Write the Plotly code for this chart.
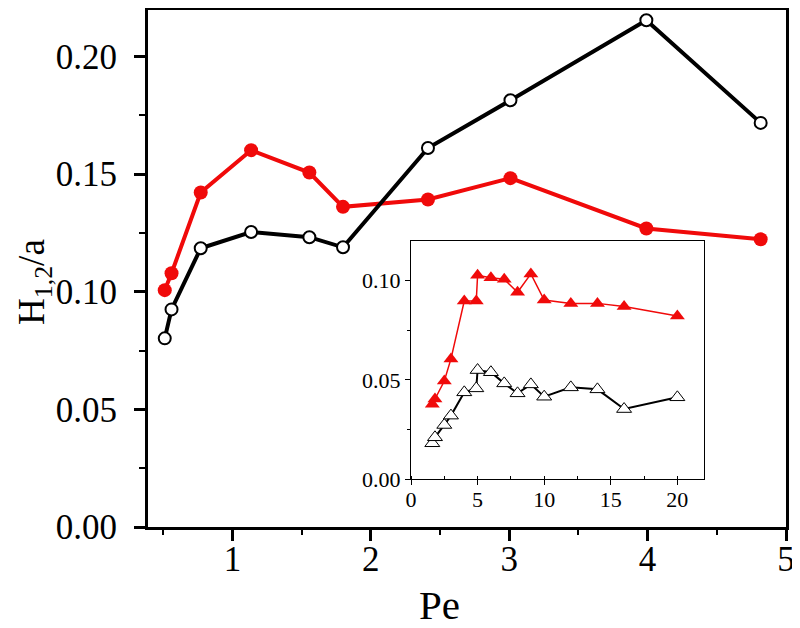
import plotly.graph_objects as go

# ---- main panel data ----
pe_main = [0.511, 0.560, 0.771, 1.135, 1.556, 1.799, 2.413, 3.009, 3.991, 4.817]
h_black = [0.0802, 0.0925, 0.1185, 0.1254, 0.1232, 0.1189, 0.1611, 0.1814, 0.2154, 0.1718]
h_red = [0.1007, 0.1079, 0.1422, 0.1602, 0.1507, 0.1361, 0.1392, 0.1483, 0.1269, 0.1223]

# ---- inset data ----
pe_inset = [1.6, 1.8, 2.5, 3.0, 4.0, 4.9, 5.0, 6.0, 7.0, 8.0, 9.0, 10.0, 12.0, 14.0, 16.0, 20.0]
h_inset_red = [0.0377, 0.0404, 0.0494, 0.0605, 0.0896, 0.0896, 0.1025, 0.1013, 0.1005, 0.0940,
               0.1032, 0.0901, 0.0884, 0.0884, 0.0868, 0.0821]
h_inset_black = [0.0181, 0.0211, 0.0273, 0.0320, 0.0437, 0.0457, 0.0549, 0.0538, 0.0482, 0.0432,
                 0.0477, 0.0415, 0.0462, 0.0452, 0.0353, 0.0412]

main_xticks = [1, 2, 3, 4, 5]
main_yticks = [0.00, 0.05, 0.10, 0.15, 0.20]
inset_xticks = [0, 5, 10, 15, 20]
inset_yticks = [0.00, 0.05, 0.10]

RED = "#f00a0a"
FONT = "Liberation Serif, Times New Roman, serif"

# page is drawn with an 8px body margin; figure is sized/placed to compensate
W, H, OFF = 792, 620, 8


def px_x(p):
    return (p - OFF) / W


def px_y(p):
    return 1 - (p - OFF) / H


fig = go.Figure()

fig.add_trace(go.Scatter(x=pe_main, y=h_red, mode="lines+markers",
                         line=dict(color=RED, width=4),
                         marker=dict(symbol="circle", size=14, color=RED),
                         xaxis="x", yaxis="y", showlegend=False))
fig.add_trace(go.Scatter(x=pe_main, y=h_black, mode="lines+markers",
                         line=dict(color="black", width=4),
                         marker=dict(symbol="circle", size=12, color="white",
                                     line=dict(color="black", width=2)),
                         xaxis="x", yaxis="y", showlegend=False))

fig.add_trace(go.Scatter(x=pe_inset, y=h_inset_red, mode="lines+markers",
                         line=dict(color=RED, width=1.5),
                         marker=dict(symbol="triangle-up", size=13, color=RED),
                         xaxis="x2", yaxis="y2", showlegend=False))
fig.add_trace(go.Scatter(x=pe_inset, y=h_inset_black, mode="lines+markers",
                         line=dict(color="black", width=2),
                         marker=dict(symbol="triangle-up", size=13, color="white",
                                     line=dict(color="black", width=1)),
                         xaxis="x2", yaxis="y2", showlegend=False))

main_xd = [px_x(148), px_x(786)]
main_yd = [px_y(527), px_y(9.5)]
ins_xd = [px_x(411), px_x(704)]
ins_yd = [px_y(479.3), px_y(240.5)]

XR = [0.39, 5.0]
YR = [0, 0.22]
IXR = [0, 22]
IYR = [0, 0.12]

fig.update_layout(
    template="none",
    width=W, height=H,
    margin=dict(l=0, r=0, t=0, b=0),
    paper_bgcolor="white", plot_bgcolor="white",
    font=dict(family=FONT, color="black"),
    xaxis=dict(domain=main_xd, range=XR, anchor="y", showgrid=False, zeroline=False, automargin=False,
               showline=True, linecolor="black", linewidth=3, mirror=True,
               tickmode="array", tickvals=main_xticks, ticktext=[str(v) for v in main_xticks],
               ticks="outside", ticklen=11, tickwidth=2.5, tickcolor="black",
               tickfont=dict(size=35, family=FONT, color="black"), ticklabelstandoff=-12,
               minor=dict(dtick=0.5, tick0=0, ticks="outside", ticklen=5, tickwidth=2, tickcolor="black")),
    yaxis=dict(domain=main_yd, range=YR, anchor="x", showgrid=False, zeroline=False, automargin=False,
               showline=True, linecolor="black", linewidth=3, mirror=True,
               tickmode="array", tickvals=main_yticks, ticktext=["%.2f" % v for v in main_yticks],
               ticks="outside", ticklen=11, tickwidth=2.5, tickcolor="black",
               tickfont=dict(size=35, family=FONT, color="black"), ticklabelstandoff=10,
               minor=dict(dtick=0.025, tick0=0, ticks="outside", ticklen=6, tickwidth=2, tickcolor="black")),
    xaxis3=dict(overlaying="x", side="top", anchor="y", range=XR, showgrid=False, zeroline=False,
                showticklabels=False, dtick=0.5, tick0=0, ticks="inside", ticklen=5, tickwidth=2,
                tickcolor="black", showline=False, automargin=False),
    yaxis3=dict(overlaying="y", side="right", anchor="x", range=YR, showgrid=False, zeroline=False,
                showticklabels=False, dtick=0.025, tick0=0, ticks="inside", ticklen=10, tickwidth=2,
                tickcolor="black", showline=False, automargin=False),
    xaxis2=dict(domain=ins_xd, range=IXR, anchor="y2", showgrid=False, zeroline=False, automargin=False,
                showline=True, linecolor="black", linewidth=1.2, mirror=True,
                tickmode="array", tickvals=inset_xticks, ticktext=[str(v) for v in inset_xticks],
                ticks="outside", ticklen=5, tickwidth=1, tickcolor="black",
                tickfont=dict(size=22, family=FONT, color="black"), ticklabelstandoff=-5,
                minor=dict(dtick=2.5, tick0=0, ticks="inside", ticklen=3, tickwidth=1, tickcolor="black")),
    yaxis2=dict(domain=ins_yd, range=IYR, anchor="x2", showgrid=False, zeroline=False, automargin=False,
                showline=True, linecolor="black", linewidth=1.2, mirror=True,
                tickmode="array", tickvals=inset_yticks, ticktext=["%.2f" % v for v in inset_yticks],
                ticks="outside", ticklen=5, tickwidth=1, tickcolor="black",
                tickfont=dict(size=22, family=FONT, color="black"),
                minor=dict(dtick=0.025, tick0=0, ticks="outside", ticklen=3, tickwidth=1, tickcolor="black")),
    annotations=[
        dict(text="Pe", xref="paper", yref="paper", x=px_x(439), y=px_y(605),
             xanchor="center", yanchor="middle", showarrow=False,
             font=dict(size=41, family=FONT, color="black")),
        dict(text="H<sub>1,2</sub>/a", xref="paper", yref="paper", x=px_x(34), y=px_y(282),
             xanchor="center", yanchor="middle", showarrow=False, textangle=-90,
             font=dict(size=37, family=FONT, color="black")),
    ],
)

fig.write_html("out.html")
